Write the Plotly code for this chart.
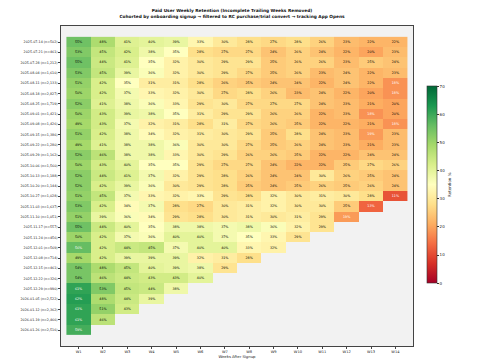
import plotly.graph_objects as go

weeks = ["W1","W2","W3","W4","W5","W6","W7","W8","W9","W10","W11","W12","W13","W14"]

cohorts = [
    "2025-07-14 (n=502)", "2025-07-21 (n=461)", "2025-07-28 (n=1,212)", "2025-08-04 (n=1,610)",
    "2025-08-11 (n=2,133)", "2025-08-18 (n=2,827)", "2025-08-25 (n=1,719)", "2025-09-01 (n=1,421)",
    "2025-09-08 (n=1,426)", "2025-09-15 (n=1,386)", "2025-09-22 (n=1,280)", "2025-09-29 (n=1,162)",
    "2025-10-06 (n=1,560)", "2025-10-13 (n=1,188)", "2025-10-20 (n=1,144)", "2025-10-27 (n=1,028)",
    "2025-11-03 (n=1,637)", "2025-11-10 (n=1,051)", "2025-11-17 (n=557)", "2025-11-24 (n=456)",
    "2025-12-01 (n=569)", "2025-12-08 (n=714)", "2025-12-15 (n=461)", "2025-12-22 (n=326)",
    "2025-12-29 (n=990)", "2026-01-05 (n=2,522)", "2026-01-12 (n=2,362)", "2026-01-19 (n=2,466)",
    "2026-01-26 (n=2,516)",
]

retention = [
    [55, 48, 41, 40, 39, 33, 30, 28, 27, 28, 26, 23, 22, 22],
    [53, 45, 42, 38, 35, 28, 27, 27, 24, 26, 24, 22, 20, 23],
    [55, 44, 41, 35, 32, 30, 29, 29, 25, 26, 26, 23, 25, 24],
    [53, 45, 39, 36, 32, 30, 29, 27, 25, 26, 23, 24, 22, 23],
    [51, 42, 35, 31, 31, 28, 26, 25, 24, 24, 22, 24, 22, 18],
    [50, 42, 37, 33, 32, 30, 27, 28, 26, 23, 24, 22, 20, 18],
    [52, 41, 38, 36, 33, 29, 30, 27, 27, 27, 24, 23, 21, 20],
    [50, 43, 39, 38, 35, 31, 29, 29, 26, 26, 22, 23, 18, 20],
    [49, 43, 37, 32, 31, 28, 31, 27, 26, 25, 22, 22, 21, 18],
    [51, 42, 38, 34, 32, 31, 30, 29, 25, 28, 24, 23, 19, 23],
    [49, 41, 38, 38, 36, 30, 30, 27, 25, 26, 24, 23, 21, 23],
    [52, 46, 38, 38, 33, 30, 29, 26, 26, 25, 22, 22, 24, 24],
    [50, 43, 40, 35, 35, 29, 27, 27, 24, 22, 22, 25, 27, 26],
    [52, 44, 41, 37, 32, 29, 28, 26, 24, 24, 30, 26, 25, 24],
    [52, 42, 39, 36, 30, 29, 28, 25, 24, 25, 26, 25, 26, 24],
    [51, 45, 37, 33, 32, 33, 29, 28, 32, 30, 31, 30, 28, 11],
    [53, 42, 34, 37, 28, 27, 30, 31, 32, 30, 30, 25, 13],
    [51, 39, 36, 34, 29, 28, 30, 31, 30, 31, 29, 19],
    [55, 44, 40, 35, 38, 38, 37, 38, 36, 32, 29],
    [50, 42, 37, 36, 40, 40, 37, 35, 33, 29],
    [56, 42, 44, 45, 37, 40, 40, 33, 32],
    [49, 42, 39, 39, 39, 32, 31, 28],
    [54, 48, 45, 40, 39, 38, 29],
    [54, 46, 44, 43, 43, 40],
    [61, 53, 45, 44, 38],
    [62, 48, 44, 39],
    [61, 51, 43],
    [61, 46],
    [59],
]

n_weeks = len(weeks)
z = [row + [None] * (n_weeks - len(row)) for row in retention]

tx, ty, tt, tc = [], [], [], []
for ci, row in enumerate(retention):
    for wi, v in enumerate(row):
        tx.append(weeks[wi])
        ty.append(cohorts[ci])
        tt.append(f"{v}%")
        tc.append("white" if (v > 55 or v < 20) else "black")

fig = go.Figure()
fig.add_trace(go.Heatmap(
    z=z, x=weeks, y=cohorts,
    colorscale="RdYlGn", zmin=0, zmax=70,
    hoverongaps=False, xgap=0, ygap=0,
    colorbar=dict(
        title=dict(text="Retention %", side="right", font=dict(size=4, color="#222", family="DejaVu Sans")),
        thickness=10, thicknessmode="pixels",
        len=197, lenmode="pixels",
        x=1.041, xanchor="left", xref="paper", xpad=0, ypad=0,
        y=0.504, yanchor="middle", yref="paper",
        tickvals=[0, 10, 20, 30, 40, 50, 60, 70],
        ticks="outside", ticklen=2, tickwidth=0.5, tickcolor="#333",
        tickfont=dict(size=4, color="#222", family="DejaVu Sans"),
        outlinewidth=0.6, outlinecolor="#333",
    ),
))
fig.add_trace(go.Scatter(
    x=tx, y=ty, text=tt, mode="text",
    textfont=dict(size=3.3, color=tc, family="DejaVu Sans"),
    hoverinfo="skip", showlegend=False,
))

fig.update_layout(
    width=500, height=362,
    margin=dict(l=43, r=95, t=18, b=16),
    paper_bgcolor="white", plot_bgcolor="#f2f2f2",
    title=dict(
        text="<b>Paid User Weekly Retention (Incomplete Trailing Weeks Removed)</b><br>"
             "<b>Cohorted by onboarding signup → filtered to RC purchase/trial convert → tracking App Opens</b>",
        x=0.448, xanchor="center", y=0.988, yanchor="top",
        font=dict(size=4.3, color="#111", family="DejaVu Sans"),
    ),
    showlegend=False,
)
fig.update_xaxes(
    type="category", categoryorder="array", categoryarray=weeks,
    showline=True, linecolor="#444", linewidth=0.6, mirror=True,
    ticks="outside", ticklen=2, tickwidth=0.5, tickcolor="#444",
    tickfont=dict(size=3.6, color="#222", family="DejaVu Sans"),
    title=dict(text="Weeks After Signup", font=dict(size=3.8, color="#222", family="DejaVu Sans"), standoff=1),
    showgrid=False, zeroline=False,
)
fig.update_yaxes(
    type="category", categoryorder="array", categoryarray=cohorts, autorange="reversed",
    showline=True, linecolor="#444", linewidth=0.6, mirror=True,
    ticks="outside", ticklen=2, tickwidth=0.5, tickcolor="#444",
    tickfont=dict(size=3.3, color="#222", family="DejaVu Sans"),
    showgrid=False, zeroline=False,
)

fig.write_html("out.html")
